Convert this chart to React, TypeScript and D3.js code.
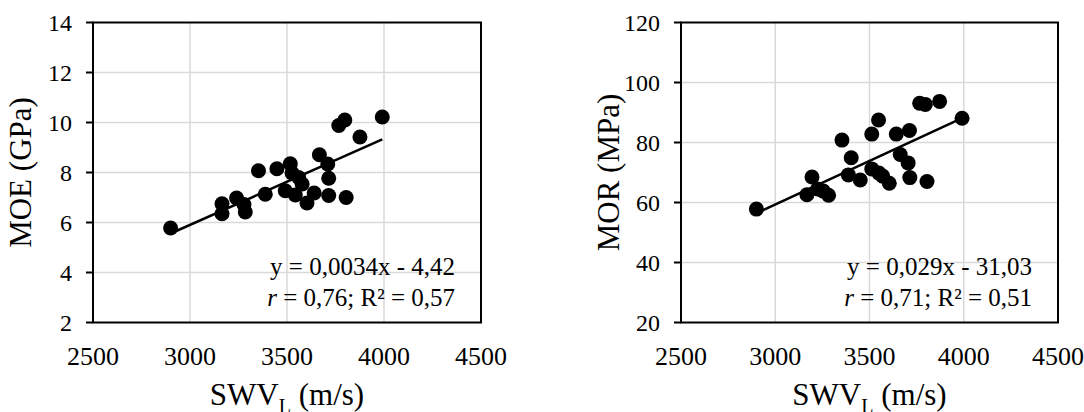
import React from "react";
import * as d3 from "d3";

// ---- Data ----
const moeX = [2900, 3165, 3165, 3240, 3278, 3285, 3388, 3353, 3448, 3491, 3517, 3526, 3543, 3560, 3578, 3603, 3640, 3667, 3710, 3715, 3715, 3767, 3798, 3805, 3876, 3991];
const moeY = [5.78, 6.75, 6.35, 6.98, 6.72, 6.42, 7.13, 8.07, 8.15, 7.27, 8.35, 7.98, 7.1, 7.8, 7.54, 6.78, 7.18, 8.71, 8.34, 7.77, 7.08, 9.88, 10.1, 7.0, 9.42, 10.22];

const morX = [2900, 3168, 3195, 3225, 3283, 3255, 3354, 3403, 3388, 3451, 3512, 3548, 3512, 3550, 3570, 3605, 3642, 3663, 3712, 3705, 3714, 3766, 3796, 3805, 3872, 3991];
const morY = [57.8, 62.6, 68.5, 64.5, 62.4, 63.8, 80.8, 74.9, 69.2, 67.5, 82.8, 87.5, 71.2, 69.8, 68.8, 66.4, 82.8, 76, 84, 73.2, 68.3, 93.1, 92.7, 67, 93.7, 88.1];

const xTicks = [2500, 3000, 3500, 4000, 4500];
const moeTicks = [2, 4, 6, 8, 10, 12, 14];
const morTicks = [20, 40, 60, 80, 100, 120];

const moeEq = "y = 0,0034x - 4,42";
const moeStat = ["0,76", "0,57"];
const morEq = "y = 0,029x - 31,03";
const morStat = ["0,71", "0,51"];

const FONT = "'Liberation Serif', 'Times New Roman', serif";

type PanelProps = {
  xs: number[];
  ys: number[];
  yTicks: number[];
  x0: number;
  x1: number;
  yTitle: string;
  eq: string;
  stat: string[];
};

function linReg(xs: number[], ys: number[]) {
  const mx = d3.mean(xs)!;
  const my = d3.mean(ys)!;
  let sxy = 0, sxx = 0;
  xs.forEach((x, i) => {
    sxy += (x - mx) * (ys[i] - my);
    sxx += (x - mx) * (x - mx);
  });
  const b = sxy / sxx;
  return { b, a: my - b * mx };
}

function Panel({ xs, ys, yTicks, x0, x1, yTitle, eq, stat }: PanelProps) {
  const yTop = 22.5;
  const yBot = 322.5;
  const x = d3.scaleLinear().domain([2500, 4500]).range([x0, x1]);
  const y = d3.scaleLinear().domain(d3.extent(yTicks) as [number, number]).range([yBot, yTop]);
  const { a, b } = linReg(xs, ys);
  const [xmin, xmax] = d3.extent(xs) as [number, number];
  const line = d3.line<number>().x((v) => x(v)).y((v) => y(a + b * v));
  const cx = (x0 + x1) / 2;
  const cy = (yTop + yBot) / 2;
  return (
    <g fontFamily={FONT} fill="#000">
      {/* grid */}
      {yTicks.slice(1, -1).map((t) => (
        <line key={"gy" + t} x1={x0} x2={x1} y1={y(t)} y2={y(t)} stroke="#d9d9d9" strokeWidth={1.5} />
      ))}
      {xTicks.slice(1, -1).map((t) => (
        <line key={"gx" + t} x1={x(t)} x2={x(t)} y1={yTop} y2={yBot} stroke="#d9d9d9" strokeWidth={1.5} />
      ))}
      {/* frame */}
      <rect x={x0} y={yTop} width={x1 - x0} height={yBot - yTop} fill="none" stroke="#000" strokeWidth={2} />
      {/* y ticks */}
      {yTicks.map((t) => (
        <g key={"ty" + t}>
          <line x1={x0 - 7} x2={x0} y1={y(t)} y2={y(t)} stroke="#000" strokeWidth={2} />
          <text x={x0 - 21} y={y(t)} dy="0.34em" textAnchor="end" fontSize={24}>{t}</text>
        </g>
      ))}
      {/* x tick labels */}
      {xTicks.map((t) => (
        <text key={"tx" + t} x={x(t)} y={365} textAnchor="middle" fontSize={26}>{t}</text>
      ))}
      {/* x title */}
      <text x={cx} y={405} textAnchor="middle" fontSize={31}>
        SWV<tspan fontSize={20} dy={8}>L</tspan><tspan dy={-8}> (m/s)</tspan>
      </text>
      {/* y title */}
      <text transform={`translate(${x0 - 62},${cy}) rotate(-90)`} textAnchor="middle" fontSize={31}>{yTitle}</text>
      {/* trend line */}
      <path d={line([xmin, xmax]) || ""} stroke="#000" strokeWidth={2.5} fill="none" />
      {/* points */}
      {xs.map((v, i) => (
        <circle key={"p" + i} cx={x(v)} cy={y(ys[i])} r={7.5} fill="#000" />
      ))}
      {/* annotation */}
      <text x={x1 - 26} y={275} textAnchor="end" fontSize={25}>{eq}</text>
      <text x={x1 - 26} y={305.5} textAnchor="end" fontSize={25}>
        <tspan fontStyle="italic">r</tspan> = {stat[0]}; R² = {stat[1]}
      </text>
    </g>
  );
}

export default function App() {
  return (
    <svg width={1084} height={412} style={{ position: "absolute", left: 0, top: 0, background: "#fff" }}>
      <rect width={1084} height={412} fill="#fff" />
      <Panel xs={moeX} ys={moeY} yTicks={moeTicks} x0={93} x1={481} yTitle="MOE (GPa)" eq={moeEq} stat={moeStat} />
      <Panel xs={morX} ys={morY} yTicks={morTicks} x0={681} x1={1058} yTitle="MOR (MPa)" eq={morEq} stat={morStat} />
    </svg>
  );
}
